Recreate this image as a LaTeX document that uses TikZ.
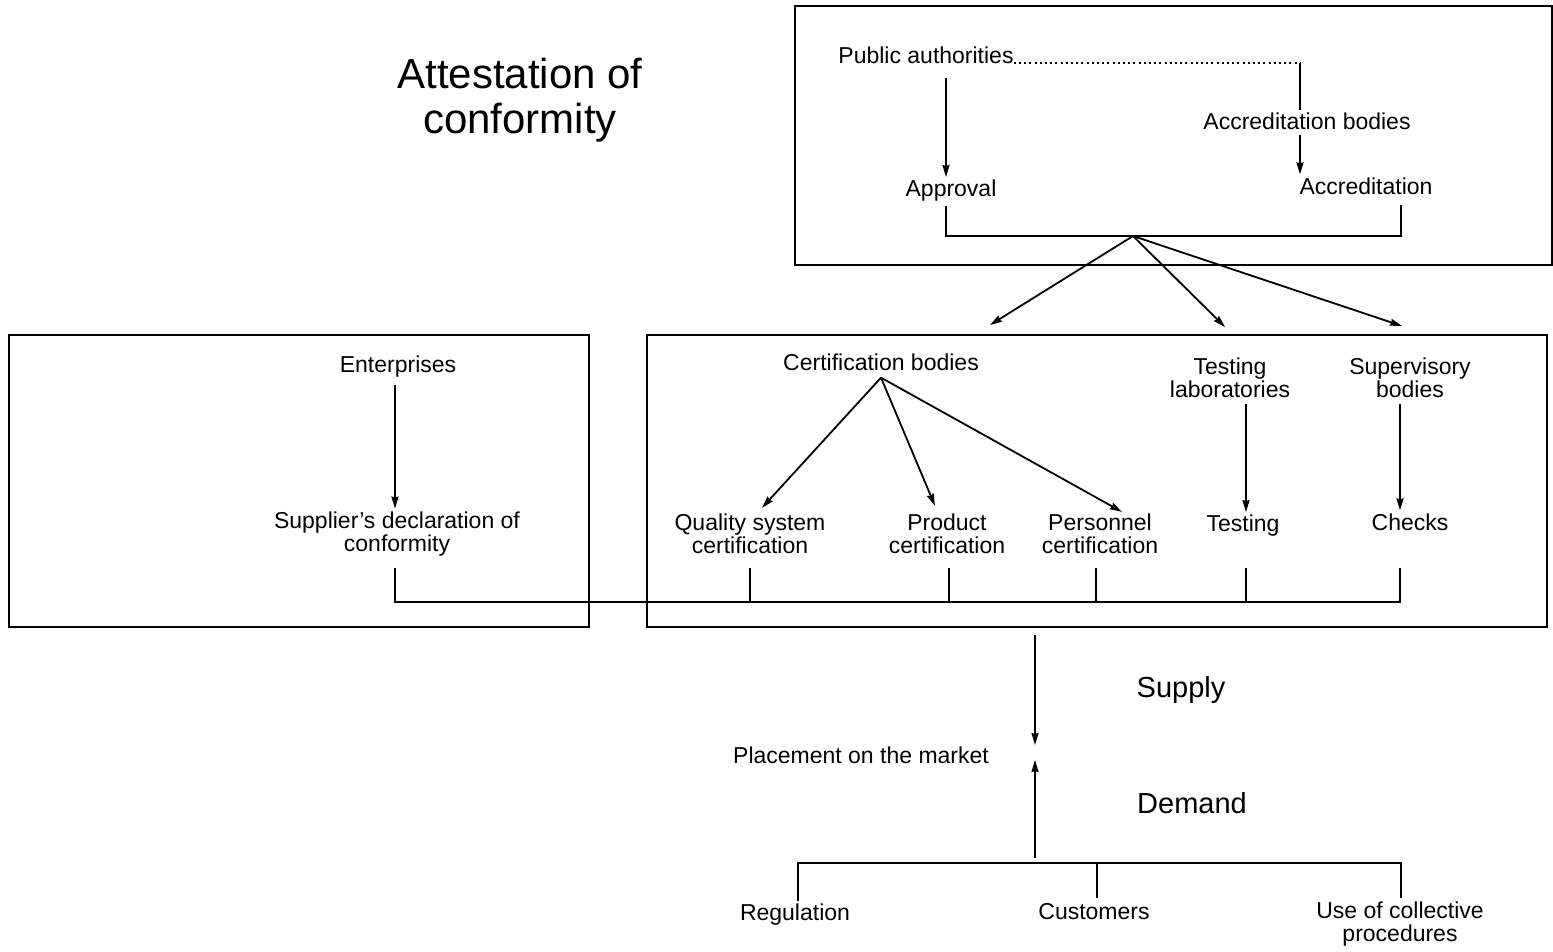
\documentclass[tikz,border=0pt]{standalone}
\usepackage{fontspec}
\setmainfont{Liberation Sans}
\usetikzlibrary{arrows.meta}
\begin{document}
\begin{tikzpicture}[x=1pt,y=-1pt,
  lbl/.style={inner sep=0pt, align=center, font=\fontsize{23}{23}\selectfont},
  big/.style={inner sep=0pt, align=center, font=\fontsize{29}{32}\selectfont},
  frame/.style={line width=2.2pt},
  link/.style={line width=1.8pt},
  arr/.style={link, -{Stealth[length=12pt,width=7pt,inset=1pt]}},
  dots/.style={line width=2pt, dash pattern=on 2pt off 3.2pt},
]
\useasboundingbox (0,0) rectangle (1553,951);

% frames
\draw[frame] (795,6) rectangle (1552,265);
\draw[frame] (9,335) rectangle (589,627);
\draw[frame] (647,335) rectangle (1547,627);

% title
\node[inner sep=0pt, align=center, font=\fontsize{42}{45}\selectfont] (title) at (520,100) {Attestation of\\conformity};

% upper block
\node[lbl] (pub)  at (926,55)  {Public authorities};
\node[lbl] (accb) at (1307,121) {Accreditation bodies};
\node[lbl] (appr) at (951,191) {Approval};
\node[lbl] (accr) at (1366,186) {Accreditation};

% middle block
\node[lbl] (certb)  at (881,362) {Certification bodies};
\node[lbl] (testlab) at (1230,378) {Testing\\laboratories};
\node[lbl] (superv) at (1410,378) {Supervisory\\bodies};
\node[lbl] (quality) at (750,534) {Quality system\\certification};
\node[lbl] (product) at (947,534) {Product\\certification};
\node[lbl] (personnel) at (1100,534) {Personnel\\certification};
\node[lbl] (testing) at (1243,526) {Testing};
\node[lbl] (checks) at (1410,522) {Checks};

% left block
\node[lbl] (ent)  at (398,367) {Enterprises};
\node[lbl] (sdoc) at (397,534) {Supplier's declaration of\\conformity};

% market
\node[big] (supply) at (1181,690) {Supply};
\node[lbl] (place)  at (861,755) {Placement on the market};
\node[big] (demand) at (1192,803) {Demand};
\node[lbl] (reg)  at (795,915) {Regulation};
\node[lbl] (cust) at (1094,912) {Customers};
\node[lbl] (use)  at (1400,924) {Use of collective\\procedures};

% reference columns and rows
\coordinate (colA) at (946,0);
\coordinate (colB) at (1300,0);
\coordinate (colE) at (395,0);
\coordinate (colT) at (1246,0);
\coordinate (colS) at (1400,0);
\coordinate (colR) at (1401,0);
\coordinate (hub) at (1133,236);
\coordinate (t1) at (990,325);
\coordinate (t2) at (1225,327);
\coordinate (t3) at (1402,326);
\coordinate (drop) at (0,568);
\coordinate (bus) at (0,602);
\coordinate (m1) at (1035,635);
\coordinate (m2) at (1035,745);
\coordinate (m3) at (1035,760);
\coordinate (m4) at (1035,858);
\coordinate (dbus) at (0,863);

% upper block connectors
\draw[arr, shorten <=14pt, shorten >=3pt] (colA |- pub.south) -- (colA |- appr.north);
\draw[dots] (pub.base east) -- (colB |- pub.base east);
\draw[link] (colB |- pub.base east) -- ([yshift=2pt]colB |- accb.north);
\draw[arr, shorten <=5pt, shorten >=3pt] (colB |- accb.south) -- (colB |- accr.north);
\draw[link] ([yshift=-4pt]colA |- appr.south) |- (hub) -| ([yshift=-10pt]colR |- accr.south);
\draw[arr] (hub) -- (t1);
\draw[arr] (hub) -- (t2);
\draw[arr] (hub) -- (t3);

% certification branches
\draw[arr] ([yshift=-7pt]certb.south) -- ([xshift=12pt,yshift=6pt]quality.north);
\draw[arr] ([yshift=-7pt]certb.south) -- ([xshift=-12pt,yshift=8pt]product.north);
\draw[arr] ([yshift=-7pt]certb.south) -- ([xshift=22pt,yshift=2pt]personnel.north);
\draw[arr, shorten <=6pt, shorten >=3pt] (colT |- testlab.south) -- (colT |- testing.north);
\draw[arr, shorten <=6pt, shorten >=3pt] (colS |- superv.south) -- (colS |- checks.north);
\draw[arr, shorten <=7pt, shorten >=3pt] (colE |- ent.south) -- (colE |- sdoc.north);

% collecting line
\draw[link] (colE |- drop) -- (colE |- bus) -- (colS |- bus) -- (colS |- drop);
\draw[link] (quality.south |- drop) -- (quality.south |- bus);
\draw[link] ([xshift=2pt]product.south |- drop) -- ([xshift=2pt]product.south |- bus);
\draw[link] ([xshift=-4pt]personnel.south |- drop) -- ([xshift=-4pt]personnel.south |- bus);
\draw[link] (colT |- drop) -- (colT |- bus);

% market
\draw[arr] (m1) -- (m2);
\draw[arr] (m4) -- (m3);
\draw[link] ([xshift=3pt,yshift=3pt]reg.north) -- ([xshift=3pt]reg.north |- dbus) -- (colR |- dbus) -- ([yshift=4pt]colR |- use.north);
\draw[link] ([xshift=3pt,yshift=6pt]cust.north) -- ([xshift=3pt]cust.north |- dbus);
\end{tikzpicture}
\end{document}
